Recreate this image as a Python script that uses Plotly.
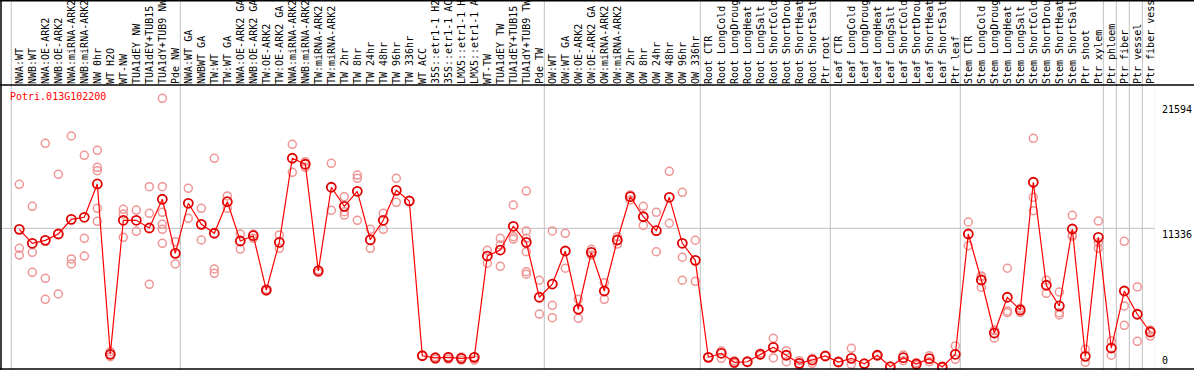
import plotly.graph_objects as go

gene = "Potri.013G102200"

labels = [
    "NWA:WT", "NWB:WT", "NWA:OE-ARK2", "NWB:OE-ARK2", "NWA:miRNA-ARK2", "NWB:miRNA-ARK2",
    "NW 0hr", "WT H2O", "WT-NW", "TUA1dEY NW", "TUA1dEY+TUB15", "TUA1dY+TUB9 NW", "Pde NW",
    "NWA:WT GA", "NWBWT GA", "TW:WT", "TW:WT GA", "NWA:OE-ARK2 GA", "NWB:OE-ARK2 GA",
    "TW:OE-ARK2", "TW:OE-ARK2 GA", "NWA:miRNA-ARK2", "NWB:miRNA-ARK2", "TW:miRNA-ARK2",
    "TW:miRNA-ARK2", "TW 2hr", "TW 8hr", "TW 24hr", "TW 48hr", "TW 96hr", "TW 336hr",
    "WT ACC", "35S::etr1-1 H2", "35S::etr1-1 AC", "LMX5::etr1-1 H", "LMX5::etr1-1 A",
    "WT-TW", "TUA1dEY TW", "TUA1dEY+TUB15", "TUA1dY+TUB9 TW", "Pde TW",
    "OW:WT", "OW:WT GA", "OW:OE-ARK2", "OW:OE-ARK2 GA", "OW:miRNA-ARK2", "OW:miRNA-ARK2",
    "OW 2hr", "OW 8hr", "OW 24hr", "OW 48hr", "OW 96hr", "OW 336hr",
    "Root CTR", "Root LongCold", "Root LongDroug", "Root LongHeat", "Root LongSalt",
    "Root ShortCold", "Root ShortDrou", "Root ShortHeat", "Root ShortSalt", "Ptr root",
    "Leaf CTR", "Leaf LongCold", "Leaf LongDroug", "Leaf LongHeat", "Leaf LongSalt",
    "Leaf ShortCold", "Leaf ShortDrou", "Leaf ShortHeat", "Leaf ShortSalt", "Ptr leaf",
    "Stem CTR", "Stem LongCold", "Stem LongDroug", "Stem LongHeat", "Stem LongSalt",
    "Stem ShortCold", "Stem ShortDrou", "Stem ShortHeat", "Stem ShortSalt", "Ptr shoot",
    "Ptr xylem", "Ptr phloem", "Ptr fiber", "Ptr vessel", "Ptr fiber vess",
]

group_sizes = [13, 28, 12, 10, 10, 11, 1, 1, 1, 1]

means = [
    11250, 10110, 10355, 10870, 12070, 12235, 14960, 1040, 11990, 11990,
    11360, 13710, 9290, 13380, 11660, 10930, 13510, 10300, 10730, 6290,
    10190, 17060, 16570, 7850, 14690, 13130, 14360, 10400, 11990, 14440,
    13570, 920, 740, 790, 710, 790, 9070, 9560, 11500, 10190,
    5700, 6780, 9480, 4720, 9370, 6210, 10380, 13920, 12280, 11140,
    13870, 10110, 8720, 790, 1120, 380, 430, 1040, 1610, 960,
    300, 570, 900, 410, 710, 270, 960, 25, 760, 245,
    680, 0, 1040, 10870, 7110, 2780, 5700, 4660, 15100, 6680,
    4990, 11280, 870, 10600, 1550, 6210, 4310, 2860,
]

replicates = [
    [14930, 9700, 9150], [13130, 9370, 7740], [18280, 7250, 5530], [15750, 5970],
    [18880, 8830, 8420], [17300, 10520, 9070], [17710, 16320, 16040, 12970, 11910],
    [1250, 1040, 840], [12890, 12500, 10600], [12830, 11090], [14740, 12560, 6760],
    [21960, 14740, 12640, 11660, 11250, 10110], [10240, 8420], [14600, 12150],
    [12970, 10380], [17060, 8010, 7660], [13980, 12970], [10870, 9640], [10870, 10520],
    [6350, 6210], [10790, 9700], [18200, 15910], [16780, 16320], [7930, 7710],
    [16650, 12810], [13920, 12690, 12420], [15690, 15420, 11990], [11250, 9700],
    [12560, 11250], [15420, 13460], [13570], [920], [840, 630], [840, 650], [810, 570],
    [810, 570], [9540, 8480], [10520, 9970, 8230], [13240, 10650, 10460],
    [14380, 11120, 10520, 9420, 7790, 7580], [7090, 4330], [11120, 5040, 4030],
    [10930, 8070], [5530, 3980], [9620, 9150], [6890, 5530], [10650, 10050],
    [14060, 13650], [13130, 11580], [12640, 9420], [15990, 11750], [14280, 8970, 7090],
    [10360, 7000], [790], [1310, 710], [520, 300], [430], [1120, 960], [2350, 740],
    [1330, 430], [520, 150], [710, 300], [900], [410], [1530, 220], [270], [980, 930],
    [25], [980, 520], [350, 140], [920, 430], [0], [1720, 630], [11850, 9910],
    [7440, 6510, 7380], [3020, 2350], [8070, 4580, 4440], [4800, 4470],
    [18690, 13870, 12770], [7090, 6020], [6130, 4440, 4250], [12400, 10790, 10680],
    [1450, 380], [11930, 9700, 10170], [2130, 960], [10270, 4990, 3410], [6540, 2100],
    [3020, 2530],
]

y_ticks = [0, 11336, 21594]

xs = list(range(len(labels)))
rep_x, rep_y = [], []
for i, reps in enumerate(replicates):
    for v in reps:
        rep_x.append(i)
        rep_y.append(v)

fig = go.Figure()
fig.add_trace(go.Scatter(
    x=rep_x, y=rep_y, mode="markers",
    marker=dict(symbol="circle-open", size=8, color="#ef9595", line=dict(width=1.5)),
    hoverinfo="skip", showlegend=False, cliponaxis=False,
))
fig.add_trace(go.Scatter(
    x=xs, y=means, mode="lines+markers",
    line=dict(color="#ff0000", width=1.2),
    marker=dict(symbol="circle-open", size=9, color="#e00000", line=dict(width=1.8)),
    showlegend=False, cliponaxis=False,
))

shapes = []
# group separators (full height, gray)
bounds = [-0.62]
acc = 0
for g in group_sizes:
    acc += g
    bounds.append(acc - 1 + 0.385)
for b in bounds:
    shapes.append(dict(type="line", xref="x", yref="paper", x0=b, x1=b, y0=-0.01, y1=1.31,
                       line=dict(color="#c0c0c0", width=1), layer="below"))
# horizontal grid at the middle tick
shapes.append(dict(type="line", xref="paper", yref="y", x0=0, x1=1, y0=y_ticks[1], y1=y_ticks[1],
                   line=dict(color="#c0c0c0", width=1), layer="below"))
# black frame lines
shapes.append(dict(type="line", xref="paper", yref="paper", x0=-0.01, x1=1.1, y0=1, y1=1,
                   line=dict(color="black", width=1.5)))
shapes.append(dict(type="line", xref="paper", yref="paper", x0=-0.01, x1=1.1, y0=0, y1=0,
                   line=dict(color="black", width=1.5)))
shapes.append(dict(type="line", xref="paper", yref="paper", x0=-0.01, x1=1.1, y0=1.297, y1=1.297,
                   line=dict(color="black", width=1.5)))
shapes.append(dict(type="line", xref="paper", yref="paper", x0=0, x1=0, y0=-0.01, y1=1.31,
                   line=dict(color="black", width=1.5)))

annotations = [dict(text=gene, xref="paper", yref="paper", x=0.008, y=0.96, xanchor="left",
                    xshift=-2, yanchor="middle", showarrow=False,
                    font=dict(family="DejaVu Sans Mono", size=10, color="#ff0000"))]
for v in y_ticks:
    annotations.append(dict(text=str(v), xref="paper", yref="y", x=1, y=v, xanchor="left",
                            xshift=5, yanchor="top" if v > 0 else "bottom",
                            yshift=1 if v > 0 else -1, showarrow=False,
                            font=dict(family="DejaVu Sans Mono", size=10, color="black")))

fig.update_layout(
    width=1194, height=370,
    margin=dict(l=1, r=39, t=85, b=1, autoexpand=False),
    paper_bgcolor="white", plot_bgcolor="white",
    shapes=shapes, annotations=annotations,
    xaxis=dict(range=[-1.408, 87.36], side="top", tickmode="array", tickvals=xs,
               ticktext=labels, tickangle=-90, showgrid=False, zeroline=False,
               showline=False, ticks="", ticklabelstandoff=0, automargin=False,
               tickfont=dict(family="DejaVu Sans Mono", size=10, color="black")),
    yaxis=dict(range=[-163, 23048], showgrid=False, zeroline=False, showticklabels=False,
               showline=False, ticks="", automargin=False),
)

fig.write_html(
    "out.html",
    config={"displayModeBar": False},
    post_script="document.body.style.margin='0';document.body.style.overflow='hidden';",
)
